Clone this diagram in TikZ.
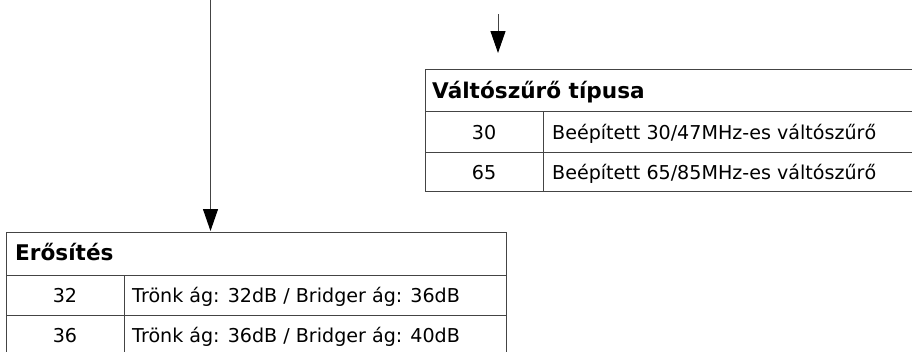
\documentclass[tikz,border=0pt]{standalone}
\usepackage{fontspec}
\setmainfont{DejaVu Sans}
\usetikzlibrary{arrows.meta}
\definecolor{linegray}{HTML}{444444}
\begin{document}
\begin{tikzpicture}[x=1pt,y=-1pt,
  cell/.style={draw=linegray,line width=1pt,minimum width=#1,minimum height=0pt,inner sep=0pt,anchor=north west,rectangle},
  txt/.style={font=\fontsize{19.1}{22}\selectfont,inner sep=0pt,anchor=base west},
  ctxt/.style={font=\fontsize{19.1}{22}\selectfont,inner sep=0pt,anchor=base},
  htxt/.style={font=\fontsize{21.6}{25}\selectfont\bfseries,inner sep=0pt,anchor=base west},
  conn/.style={draw=linegray,line width=1pt,-{Triangle[length=22pt,width=15pt,color=black]}}]
\useasboundingbox (0,0) rectangle (912,351);
\clip (0,0) rectangle (912,351);
% top-right table
\node[cell=500pt,minimum height=42pt] (th) at (425,69) {};
\node[cell=118pt,minimum height=41pt] (t1a) at (425,111) {};
\node[cell=382pt,minimum height=41pt] (t1b) at (543,111) {};
\node[cell=118pt,minimum height=39pt] (t2a) at (425,152) {};
\node[cell=382pt,minimum height=39pt] (t2b) at (543,152) {};
\node[htxt] (thx) at (432,98.5) {Váltószűrő típusa};
\node[ctxt] (t1ax) at (484,139) {30};
\node[txt] (t1bx) at (552,139) {Beépített 30/47MHz-es váltószűrő};
\node[ctxt] (t2ax) at (484,179) {65};
\node[txt] (t2bx) at (552,179) {Beépített 65/85MHz-es váltószűrő};
% bottom-left table
\node[cell=500pt,minimum height=43pt] (bh) at (6,232) {};
\node[cell=118pt,minimum height=40pt] (b1a) at (6,275) {};
\node[cell=382pt,minimum height=40pt] (b1b) at (124,275) {};
\node[cell=118pt,minimum height=45pt] (b2a) at (6,315) {};
\node[cell=382pt,minimum height=45pt] (b2b) at (124,315) {};
\node[htxt] (bhx) at (15,260.5) {Erősítés};
\node[ctxt] (b1ax) at (65,302.5) {32};
\node[txt] (b1bx) at (132,302.5) {Trönk ág: 32dB / Bridger ág: 36dB};
\node[ctxt] (b2ax) at (65,342.5) {36};
\node[txt] (b2bx) at (132,342.5) {Trönk ág: 36dB / Bridger ág: 40dB};
% connectors
\coordinate (s1) at (210.5,-5);
\coordinate (e1) at (210.5,231);
\coordinate (s2) at (498,14);
\coordinate (e2) at (498,53);
\draw[conn] (s1) -- (e1);
\draw[conn] (s2) -- (e2);
\end{tikzpicture}
\end{document}
